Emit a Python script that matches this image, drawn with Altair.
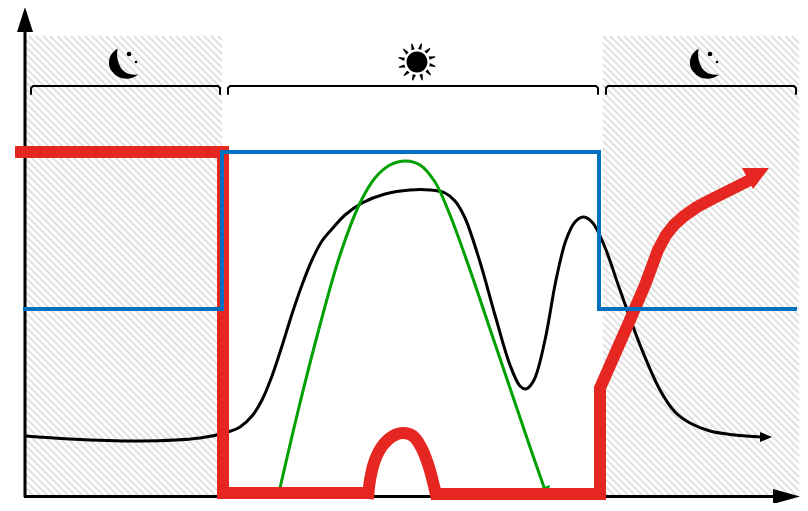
import altair as alt
import pandas as pd
import math

# Schematic curves in its own units
black_x = [25,70,140,200,228,240,252,262,272,282,292,302,312,322,332,345,362,385,410,430,445,455,465,480,495,510,520,526,534,545,556,566,575,583,592,604,620,640,660,675,690,710,735,762]
black_y = [436,439,441,438,432,427,416,400,376,346,314,285,260,241,229,215,203,194,190,190,193,201,218,262,315,365,386,389,380,340,280,240,222,217,222,245,290,345,390,412,423,431,435,437]
green_x = [280,300,320,340,360,375,390,406,420,435,450,470,490,510,530,545]
green_y = [488,403,325,255,203,178,165,161,165,182,215,270,329,388,447,490]
blue_x = [23,222,222,599,599,797]
blue_y = [309,309,152,152,309,309]
red_a_x = [15,223,223,372]
red_a_y = [152,152,493,493]
red_arch_x = [368,370,375,383,393,403,413,421,428,433,437]
red_arch_y = [499,480,460,445,436,433,436,447,464,482,499]
red_b_x = [433,600,600,630,645,658,666,674,684,697,712,730,750]
red_b_y = [494,494,388,320,285,250,235,225,216,207,199,190,180]
bracket_x = [[31,31,33,218,220,220],[228,228,230,596,598,598],[606,606,608,794,796,796]]
bracket_y = [94,88,86,86,88,94]
night_spans = [(26,222),(603,799)]
hatch_top, hatch_bottom = 36, 497
moon_x = [124,705]
moon_y = [64,64]
star_dx = [5,12]
star_dy = [-10,-2]
star_size = [22,7]

X = alt.Scale(domain=[8,800], range=[0,792], nice=False, zero=False)
Y = alt.Scale(domain=[503,8], nice=False, zero=False)

def xy(field_x="x", field_y="y"):
    return dict(x=alt.X(field_x, type="quantitative", scale=X, axis=None),
                y=alt.Y(field_y, type="quantitative", scale=Y, axis=None))

def line(xs, ys, color, width, interpolate="linear", cap="butt", join="miter"):
    df = pd.DataFrame({"x": xs, "y": ys, "o": range(len(xs))})
    return alt.Chart(df).mark_line(color=color, strokeWidth=width, interpolate=interpolate,
                                   strokeCap=cap, strokeJoin=join, clip=False, point=False).encode(
        order=alt.Order("o:Q"), **xy())

def shape_of(pts, ux, uy, unit):
    return "M" + " L".join(f"{(px-ux)/unit:.3f},{(py-uy)/unit:.3f}" for px, py in pts) + " Z"

def glyph(cx, cy, path, unit, color):
    df = pd.DataFrame({"x": cx if isinstance(cx, list) else [cx], "y": cy if isinstance(cy, list) else [cy]})
    return alt.Chart(df).mark_point(shape=path, size=(2*unit)**2, filled=True, fill=color, opacity=1,
                                    strokeWidth=0, clip=False).encode(**xy())

# hatching of the night bands
hatch_rows = []
period = 7
for x0, x1 in night_spans:
    c = x0 - hatch_bottom
    c = c - (c % period)
    while c < x1 - hatch_top:
        xa = max(x0, c + hatch_top); xb = min(x1, c + hatch_bottom)
        if xb > xa:
            hatch_rows.append({"x": xa, "x2": xb, "y": xa - c, "y2": xb - c})
        c += period
hatch = alt.Chart(pd.DataFrame(hatch_rows)).mark_rule(color="#e2e2e2", strokeWidth=2.2).encode(
    x=alt.X("x:Q", scale=X, axis=None), x2="x2:Q",
    y=alt.Y("y:Q", scale=Y, axis=None), y2="y2:Q")

layers = [hatch]

# icons
moon_path = ("M-0.40,-0.95 C-1.05,-0.60 -1.05,0.15 -0.72,0.50 C-0.35,1.00 0.40,1.05 0.90,0.65 "
             "C0.45,0.72 0.00,0.58 -0.22,0.20 C-0.42,-0.15 -0.48,-0.55 -0.40,-0.95 Z")
layers.append(glyph(moon_x, moon_y, moon_path, 16, "#000000"))
for dx, dy, s in zip(star_dx, star_dy, star_size):
    df = pd.DataFrame({"x": [m + dx for m in moon_x], "y": [m + dy for m in moon_y]})
    layers.append(alt.Chart(df).mark_point(shape="circle", size=s, filled=True, fill="#000", opacity=1,
                                           strokeWidth=0).encode(**xy()))

sun_parts = ["M0.55,0 A0.55,0.55 0 1,1 -0.55,0 A0.55,0.55 0 1,1 0.55,0 Z"]
for a in range(0, 360, 30):
    t = math.radians(a + 12)
    pts = []
    for r, off in ((0.68, -0.13), (0.68, 0.13), (1.0, 0.06), (1.0, 0.0)):
        pts.append((r*math.cos(t+off), r*math.sin(t+off)))
    sun_parts.append("M" + " L".join(f"{p:.3f},{q:.3f}" for p, q in pts) + " Z")
layers.append(glyph(417, 62, " ".join(sun_parts), 19, "#000000"))

# brackets
for bx in bracket_x:
    layers.append(line(bx, bracket_y, "#000000", 2, cap="round", join="round"))

# axes
layers.append(line([25,25],[497,28],"#000000",3))
layers.append(line([24,778],[496.5,496.5],"#000000",3))
layers.append(glyph(25, 20, shape_of([(25,7),(33,32),(17,32)],25,20,13), 13, "#000000"))
layers.append(glyph(786, 496.5, shape_of([(800,496.5),(773,489),(773,504)],786,496.5,14), 14, "#000000"))

# curves
layers.append(line(black_x, black_y, "#000000", 3, interpolate="catmull-rom", join="round"))
layers.append(glyph(766, 437, shape_of([(772,437),(760,432),(760,442)],766,437,6), 6, "#000000"))
layers.append(line(green_x, green_y, "#00a000", 3, interpolate="catmull-rom", join="round"))
layers.append(glyph(545, 489, shape_of([(548,494),(541,488),(550,485)],545,489,5), 5, "#00a000"))

layers.append(line(red_a_x, red_a_y, "#e62620", 12))
layers.append(line(red_arch_x, red_arch_y, "#e62620", 12, interpolate="catmull-rom", join="round"))
layers.append(line(red_b_x, red_b_y, "#e62620", 12))
layers.append(glyph(755, 175, shape_of([(769,168),(742,168),(753,189)],755,175,16), 16, "#e62620"))

layers.append(line(blue_x, blue_y, "#0070c0", 4))

chart = alt.layer(*layers).properties(
    width=792, height=495, padding=0, autosize=alt.AutoSizeParams(type="none"), background="white"
).configure_view(stroke=None)

chart.save("out.html", embed_options={"renderer": "svg", "actions": False})
